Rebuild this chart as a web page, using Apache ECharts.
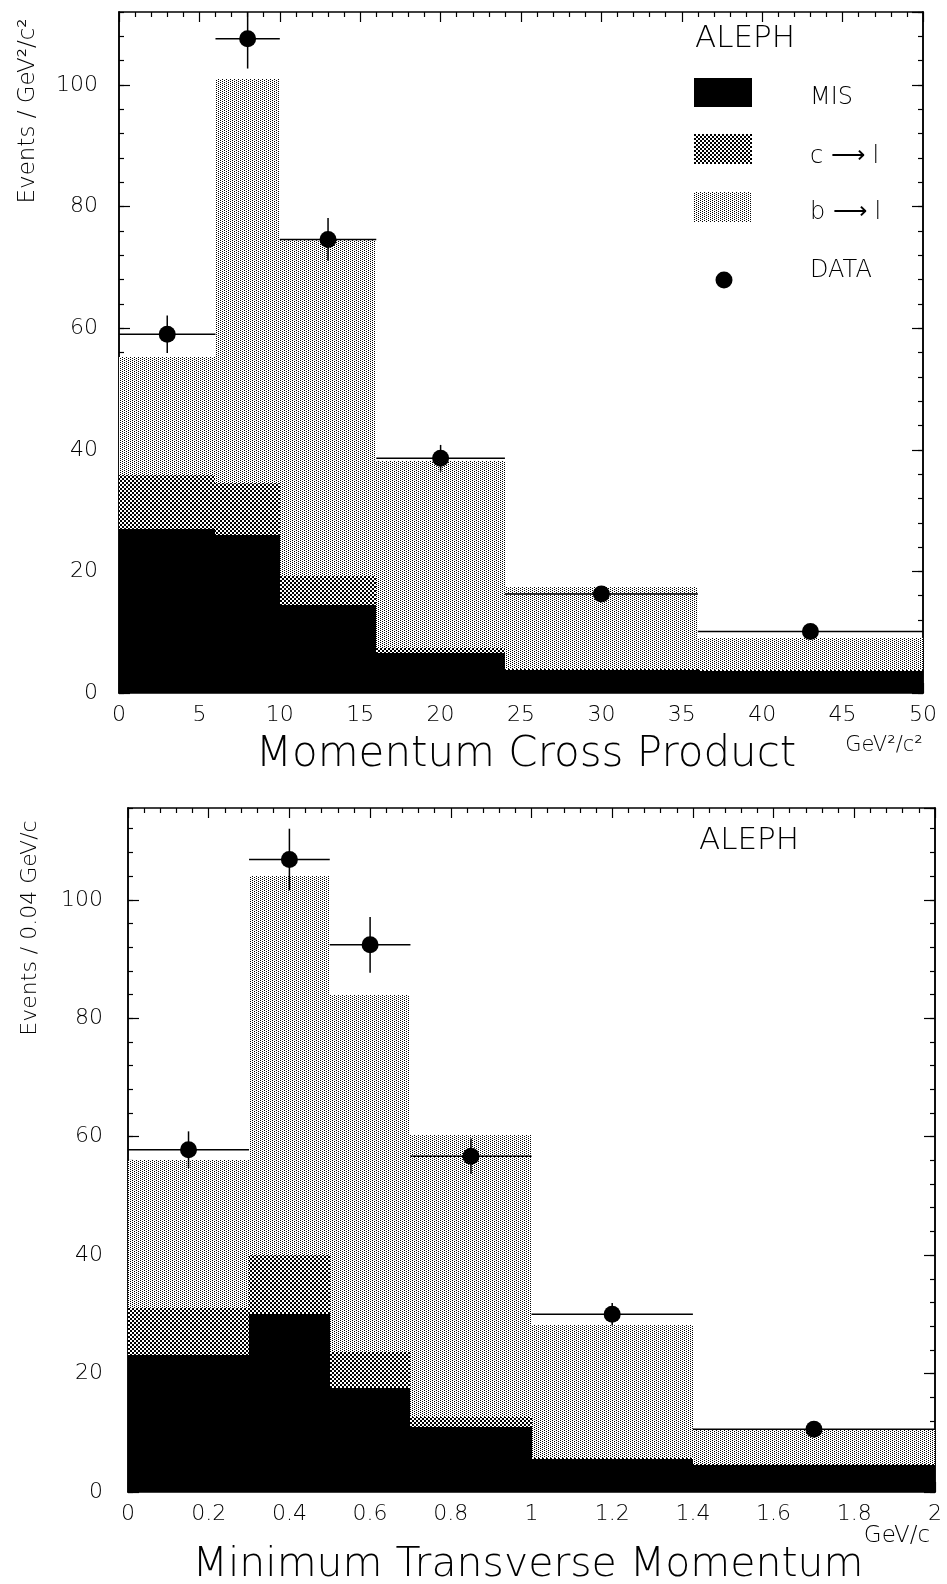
<!DOCTYPE html>
<html>
<head>
<meta charset="utf-8">
<script src="https://cdn.jsdelivr.net/npm/echarts@6/dist/echarts.min.js"></script>
<style>
html, body { margin: 0; padding: 0; background: #fff; }
#main { width: 947px; height: 1584px; }
</style>
</head>
<body>
<div id="main"></div>
<script>
// top panel : momentum cross product (GeV^2/c^2)
var edgesA = [0, 6, 10, 16, 24, 36, 50];
var misA = [27.0, 26.0, 14.4, 6.6, 3.8, 3.7];
var clA = [8.9, 8.6, 4.9, 0.8, 0.2, 0.1];
var blA = [19.4, 66.4, 55.4, 30.7, 13.4, 5.2];
var dataA = [59.0, 107.6, 74.6, 38.6, 16.3, 10.1];
var errA = [3.1, 4.9, 3.5, 2.2, 1.2, 0.8];

// bottom panel : minimum transverse momentum (GeV/c)
var edgesB = [0, 0.3, 0.5, 0.7, 1.0, 1.4, 2.0];
var misB = [23.1, 30.0, 17.5, 10.9, 5.5, 4.6];
var clB = [8.0, 10.0, 6.2, 1.7, 0.2, 0.1];
var blB = [25.0, 64.1, 60.3, 47.6, 22.5, 5.7];
var dataB = [57.8, 106.8, 92.4, 56.7, 30.0, 10.6];
var errB = [3.1, 5.2, 4.7, 3.0, 1.9, 0.8];

var FONT = 'DejaVu Sans';

function makePattern(size, cells) {
    var c = document.createElement('canvas');
    c.width = size; c.height = size;
    var ctx = c.getContext('2d');
    ctx.fillStyle = '#fff';
    ctx.fillRect(0, 0, size, size);
    ctx.fillStyle = '#000';
    cells.forEach(function (p) { ctx.fillRect(p[0], p[1], p[2], p[2]); });
    return c;
}
var darkFill = { image: makePattern(4, [[0, 0, 2], [2, 2, 2]]), repeat: 'repeat' };
var lightFill = { image: makePattern(4, [[0, 0, 1], [2, 1, 1], [0, 2, 1], [2, 3, 1]]), repeat: 'repeat' };

// stacked boxes [x0, x1, ylow, yhigh]
function boxes(edges, low, part) {
    var list = [];
    for (var i = 0; i < part.length; i++) {
        var b = low ? low[i] : 0;
        list.push([edges[i], edges[i + 1], b, b + part[i]]);
    }
    return list;
}
function addArr(a, b) {
    return a.map(function (v, i) { return v + b[i]; });
}
function points(edges, vals, errs) {
    var list = [];
    for (var i = 0; i < vals.length; i++) {
        list.push([edges[i], edges[i + 1], (edges[i] + edges[i + 1]) / 2, vals[i], errs[i]]);
    }
    return list;
}

function renderBox(fill) {
    return function (params, api) {
        var p0 = api.coord([api.value(0), api.value(3)]);
        var p1 = api.coord([api.value(1), api.value(2)]);
        var x0 = Math.round(p0[0]), x1 = Math.round(p1[0]);
        var y0 = Math.round(p0[1]), y1 = Math.round(p1[1]);
        return {
            type: 'rect',
            shape: { x: x0, y: y0, width: x1 - x0, height: y1 - y0 },
            style: { fill: fill }
        };
    };
}
function renderPoint(params, api) {
    var y = api.value(3), e = api.value(4), xc = api.value(2);
    var a = api.coord([api.value(0), y]);
    var b = api.coord([api.value(1), y]);
    var c = api.coord([xc, y]);
    var t = api.coord([xc, y + e]);
    var d = api.coord([xc, y - e]);
    return {
        type: 'group',
        children: [
            { type: 'line', shape: { x1: a[0], y1: a[1], x2: b[0], y2: b[1] }, style: { stroke: '#000', lineWidth: 1.5 } },
            { type: 'line', shape: { x1: t[0], y1: t[1], x2: d[0], y2: d[1] }, style: { stroke: '#000', lineWidth: 1.5 } },
            { type: 'circle', shape: { cx: c[0], cy: c[1], r: 8.5 }, style: { fill: '#000' } }
        ]
    };
}

function histSeries(grid, edges, mis, cl, bl, dat, err) {
    var base = { type: 'custom', xAxisIndex: grid * 2, yAxisIndex: grid * 4, clip: true, silent: true };
    var c0 = addArr(mis, cl);
    return [
        Object.assign({}, base, { name: 'b→l', renderItem: renderBox(lightFill), encode: { x: [0, 1], y: [2, 3] }, data: boxes(edges, c0, bl) }),
        Object.assign({}, base, { name: 'c→l', renderItem: renderBox(darkFill), encode: { x: [0, 1], y: [2, 3] }, data: boxes(edges, mis, cl) }),
        Object.assign({}, base, { name: 'MIS', renderItem: renderBox('#000'), encode: { x: [0, 1], y: [2, 3] }, data: boxes(edges, null, mis) }),
        Object.assign({}, base, { name: 'DATA', renderItem: renderPoint, encode: { x: [0, 1], y: 3 }, data: points(edges, dat, err), z: 5 })
    ];
}

var labelSt = { color: '#000', fontFamily: FONT, fontWeight: 200, fontSize: 22 };
function lineStyle() { return { color: '#000', width: 1.5 }; }

function xAxes(grid, max, interval) {
    var common = {
        type: 'value', gridIndex: grid, min: 0, max: max, interval: interval,
        axisLine: { show: true, onZero: false, lineStyle: lineStyle() },
        axisTick: { show: true, inside: true, length: 10, lineStyle: { color: '#000', width: 1.2 } },
        minorTick: { show: true, splitNumber: 5, length: 5, lineStyle: { color: '#000', width: 1.2 } },
        splitLine: { show: false }
    };
    return [
        Object.assign({}, common, { position: 'bottom', axisLabel: Object.assign({ margin: 11 }, labelSt) }),
        Object.assign({}, common, { position: 'top', axisLabel: { show: false } })
    ];
}
function yAxes(grid, max, margin) {
    var common = {
        type: 'value', gridIndex: grid, min: 0, max: max,
        axisLine: { show: true, onZero: false, lineStyle: lineStyle() },
        splitLine: { show: false }
    };
    var major = { interval: 20, axisTick: { show: true, inside: true, length: 11, lineStyle: { color: '#000', width: 1.2 } } };
    var minor = { interval: 4, axisTick: { show: true, inside: true, length: 5, lineStyle: { color: '#000', width: 1.2 } }, axisLabel: { show: false } };
    return [
        Object.assign({}, common, major, { position: 'left', axisLabel: Object.assign({ margin: margin, showMaxLabel: false }, labelSt) }),
        Object.assign({}, common, minor, { position: 'left' }),
        Object.assign({}, common, major, { position: 'right', axisLabel: { show: false } }),
        Object.assign({}, common, minor, { position: 'right' })
    ];
}

function txt(x, y, text, size, extra) {
    return Object.assign({
        type: 'text', x: x, y: y, silent: true,
        style: { text: text, fill: '#000', font: '200 ' + size + 'px "' + FONT + '"', textAlign: 'left', textVerticalAlign: 'middle' }
    }, extra || {});
}
function ctxt(x, y, text, size, rot) {
    var t = txt(x, y, text, size, rot ? { rotation: rot } : null);
    t.style.textAlign = 'center';
    return t;
}

var myChart = echarts.init(document.getElementById('main'), null, { renderer: 'canvas' });
var option = {
    animation: false,
    backgroundColor: '#fff',
    grid: [
        { left: 119, top: 12, width: 804, height: 681 },
        { left: 128, top: 808, width: 807, height: 684 }
    ],
    xAxis: xAxes(0, 50, 5).concat(xAxes(1, 2, 0.2)),
    yAxis: yAxes(0, 112, 21).concat(yAxes(1, 115.5, 25)),
    series: histSeries(0, edgesA, misA, clA, blA, dataA, errA)
        .concat(histSeries(1, edgesB, misB, clB, blB, dataB, errB)),
    graphic: [
        // axis titles
        ctxt(526, 755, 'Momentum Cross Product', 42),
        ctxt(884, 746, 'GeV²/c²', 21),
        ctxt(528, 1565, 'Minimum Transverse Momentum', 41),
        ctxt(897, 1536, 'GeV/c', 23),
        ctxt(28, 111, 'Events / GeV²/c²', 23, Math.PI / 2),
        ctxt(30, 928, 'Events / 0.04 GeV/c', 22, Math.PI / 2),
        // key
        txt(695, 39, 'ALEPH', 31),
        { type: 'rect', shape: { x: 694, y: 78, width: 58, height: 29 }, style: { fill: '#000' }, silent: true },
        { type: 'rect', shape: { x: 694, y: 134, width: 58, height: 30 }, style: { fill: darkFill }, silent: true },
        { type: 'rect', shape: { x: 694, y: 192, width: 58, height: 30 }, style: { fill: lightFill }, silent: true },
        { type: 'circle', shape: { cx: 724, cy: 280, r: 8.5 }, style: { fill: '#000' }, silent: true },
        txt(810, 98, 'MIS', 24),
        txt(810, 157, 'c ⟶ l', 24),
        txt(810, 213, 'b ⟶ l', 24),
        txt(810, 271, 'DATA', 24),
        txt(699, 841, 'ALEPH', 31)
    ]
};
myChart.setOption(option);
</script>
</body>
</html>
